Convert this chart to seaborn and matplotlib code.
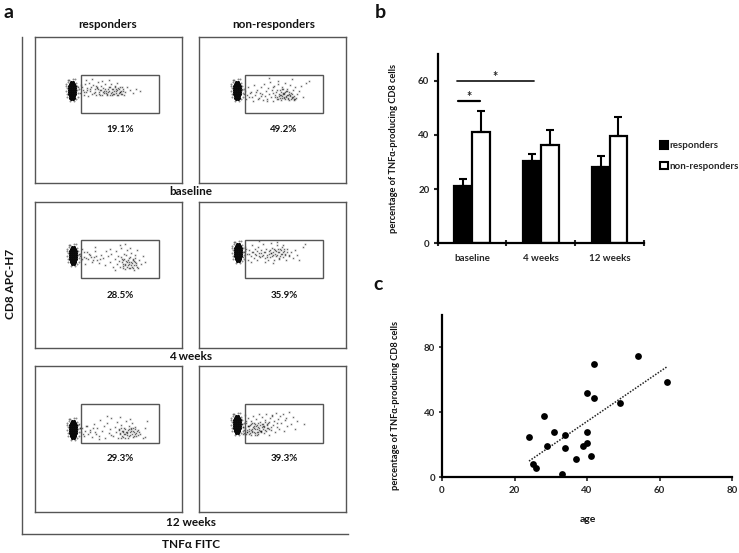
import matplotlib
matplotlib.use('Agg')
import matplotlib.pyplot as plt
import pandas as pd
import seaborn as sns
from matplotlib.patches import Patch, Rectangle

# panel b
TIMES = ['baseline', '4 weeks', '12 weeks']
GROUPS = ['responders', 'non-responders']
RESP_MEAN = [21, 30.5, 28]
NONRESP_MEAN = [41, 36.3, 39.8]
RESP_ERR = [2.8, 2.5, 4.3]
NONRESP_ERR = [8, 5.7, 6.7]

# panel c
AGE = [24, 25, 26, 28, 29, 31, 33, 34, 34, 37, 39, 40, 40, 40, 41, 42, 42, 49, 54, 62]
PCT = [25, 8, 6, 38, 19, 28, 2, 26, 18, 11, 19, 52, 28, 21, 13, 70, 49, 46, 75, 59]
TREND_X = [24, 62]
TREND_Y = [10, 68]

# panel a, events (distance from the plot corner)
PCTS = [['19.1%', '49.2%'], ['28.5%', '35.9%'], ['29.3%', '39.3%']]
ROW_LABELS = ['baseline', '4 weeks', '12 weeks']
BLOB_X = [-1, 0.5, -2, 0, 1.5, -3, -1, 1, 2.5, -3.5, -1.5, 0.5, 2.5, -3.5, -1.5, 0.5, 2.5, -3, -1, 1, 2.5, -3, -1, 1, 2.5, -2.5, -0.5, 1.5, -2, 0, 1.5, -1, 0.5]
BLOB_Y = [-8, -8, -6, -6, -6, -4, -4, -4, -4, -2, -2, -2, -2, 0, 0, 0, 0, 2, 2, 2, 2, 4, 4, 4, 4, 6, 6, 6, 7.5, 7.5, 7.5, 9, 9]
HALO_X = [-6, -5, -6.5, -5.5, -4.5, -5, -4, -6, 4, 5, 4.5, 6, 5.5, 4, 6.5, 3, -2, 1, -3, 2]
HALO_Y = [-6, -2, 1, 4, -8, 7, -10, -4, -7, -4, 0, 3, 7, 9, -1, -11, 11, -11, -10, 11]
BLOB_CENTRE = [[(37, 53), (38, 53)], [(38, 53), (39, 50)], [(38, 63), (38, 58)]]

EV_X_11 = [43, 45, 46, 48, 49, 50, 51, 52, 53, 54, 55, 56, 57, 58, 59, 60, 61, 62, 63, 64, 65, 66, 67, 68, 69, 70, 71, 72, 73, 74, 75, 76, 77, 78, 79, 80, 81, 82, 83, 84, 85, 86, 87, 88, 90, 92, 95, 98, 101, 105, 57, 74, 51, 67, 82, 63, 71,
           60, 62, 64, 66, 68, 70, 72, 74, 75, 76, 77, 78, 79, 80, 81, 82, 83, 84, 85, 86, 87, 88, 89, 61, 65, 69, 73, 77, 81, 85, 47, 49, 52, 55]
EV_Y_11 = [50, 56, 48, 53, 58, 47, 55, 51, 59, 46, 54, 50, 57, 48, 56, 52, 58, 50, 45, 55, 53, 49, 58, 51, 56, 47, 54, 57, 52, 50, 58, 47, 55, 52, 57, 49, 54, 58, 51, 56, 50, 54, 57, 52, 55, 50, 53, 56, 52, 54, 42, 43, 43, 44, 46, 52, 56,
           55, 51, 57, 53, 55, 52, 58, 54, 50, 56, 52, 57, 54, 50, 56, 53, 58, 52, 55, 57, 50, 54, 58, 49, 58, 54, 55, 58, 52, 55, 50, 55, 53, 52]
EV_X_12 = [43, 45, 47, 49, 50, 52, 54, 55, 56, 58, 60, 61, 62, 64, 65, 66, 67, 68, 69, 70, 71, 72, 73, 74, 75, 76, 77, 78, 79, 80, 81, 82, 83, 84, 85, 86, 87, 88, 89, 90, 91, 92, 93, 94, 95, 96, 98, 100, 102, 104, 107, 110, 79, 70, 86, 93, 74, 84, 90, 62, 68, 78, 82, 88, 96, 85, 83,
           74, 76, 78, 80, 81, 82, 83, 84, 85, 86, 87, 88, 89, 90, 91, 92, 93, 94, 95, 79, 81, 83, 85, 87, 89, 91, 93, 95, 97, 46, 48, 51, 53, 57, 59, 63]
EV_Y_12 = [52, 57, 62, 50, 60, 55, 64, 48, 58, 53, 61, 56, 50, 63, 47, 59, 54, 62, 51, 57, 45, 60, 53, 64, 49, 58, 55, 62, 47, 59, 53, 63, 50, 57, 61, 55, 60, 52, 58, 63, 48, 56, 61, 53, 59, 50, 57, 54, 49, 60, 46, 44, 44, 41, 46, 42, 50, 56, 57, 59, 64, 60, 58, 54, 62, 60, 52,
           56, 60, 53, 57, 61, 55, 59, 52, 57, 62, 54, 58, 61, 55, 59, 62, 57, 60, 62, 62, 58, 61, 56, 59, 62, 58, 60, 63, 61, 54, 58, 56, 60, 55, 62, 57]
EV_X_21 = [44, 46, 47, 49, 50, 52, 53, 55, 57, 59, 60, 62, 64, 66, 68, 70, 71, 73, 75, 76, 78, 80, 81, 82, 83, 84, 85, 86, 87, 88, 89, 90, 91, 92, 93, 94, 95, 96, 97, 98, 99, 100, 101, 102, 103, 104, 106, 108, 110, 85, 90, 95, 60, 75, 88, 94, 99, 80,
           86, 87, 88, 89, 90, 91, 92, 93, 94, 95, 96, 97, 98, 99, 100, 101, 102, 88, 90, 92, 94, 96, 98, 100, 45, 47, 49, 51, 54, 56, 58, 61, 65]
EV_Y_21 = [52, 58, 47, 55, 62, 50, 57, 53, 60, 55, 49, 58, 61, 53, 56, 63, 49, 54, 60, 52, 65, 57, 49, 62, 54, 59, 65, 46, 57, 62, 52, 67, 59, 48, 63, 56, 66, 51, 61, 57, 68, 53, 63, 48, 66, 58, 62, 54, 60, 43, 42, 46, 45, 47, 58, 60, 59, 68,
           55, 60, 64, 57, 62, 53, 65, 58, 62, 55, 60, 65, 58, 63, 56, 61, 65, 66, 63, 60, 66, 63, 66, 60, 54, 57, 50, 56, 52, 55, 58, 54, 57]
EV_X_22 = [42, 44, 46, 48, 49, 50, 52, 53, 54, 55, 56, 57, 58, 59, 60, 61, 62, 63, 64, 65, 66, 67, 68, 69, 70, 71, 72, 73, 74, 75, 76, 77, 78, 79, 80, 81, 82, 83, 84, 85, 86, 87, 88, 90, 92, 94, 96, 98, 100, 104, 106, 60, 72, 78, 84, 52, 66, 74, 80,
           56, 58, 60, 62, 64, 66, 68, 70, 71, 72, 73, 74, 75, 76, 77, 78, 79, 80, 81, 82, 83, 84, 85, 86, 88, 90, 45, 47, 50, 53]
EV_Y_22 = [49, 55, 45, 52, 58, 48, 54, 43, 50, 56, 47, 53, 58, 45, 51, 55, 48, 54, 42, 50, 56, 47, 53, 58, 49, 55, 51, 46, 53, 58, 48, 54, 43, 50, 56, 47, 52, 45, 55, 49, 53, 58, 47, 54, 50, 56, 48, 53, 58, 45, 42, 39, 41, 40, 43, 60, 60, 61, 57,
           52, 49, 54, 51, 53, 50, 55, 52, 48, 51, 54, 50, 47, 52, 49, 53, 47, 50, 54, 48, 52, 50, 47, 52, 50, 53, 50, 47, 52, 50]
EV_X_31 = [44, 46, 47, 49, 51, 53, 55, 57, 59, 60, 62, 64, 65, 67, 69, 70, 72, 74, 75, 76, 78, 80, 81, 82, 83, 84, 85, 86, 87, 88, 89, 90, 91, 92, 93, 94, 95, 96, 97, 98, 99, 100, 101, 103, 105, 108, 110, 112, 110, 85, 95, 72, 64, 88, 92, 96, 100, 76,
           84, 85, 86, 87, 88, 89, 90, 91, 92, 93, 94, 95, 96, 97, 98, 99, 100, 101, 102, 103, 104, 86, 90, 94, 98, 45, 48, 50, 52, 55, 58, 61]
EV_Y_31 = [58, 66, 62, 70, 60, 68, 64, 71, 58, 66, 62, 70, 54, 65, 60, 72, 57, 67, 63, 52, 70, 61, 66, 56, 72, 63, 68, 59, 65, 71, 62, 68, 55, 66, 72, 60, 69, 63, 57, 71, 66, 61, 70, 64, 68, 72, 62, 55, 71, 51, 53, 50, 73, 66, 67, 65, 68, 69,
           64, 67, 62, 70, 65, 68, 63, 66, 69, 64, 70, 66, 62, 68, 65, 70, 63, 67, 65, 69, 66, 72, 72, 63, 62, 62, 68, 65, 60, 66, 62, 68, 64]
EV_X_32 = [42, 44, 45, 46, 47, 48, 49, 50, 51, 52, 53, 54, 55, 56, 57, 58, 59, 60, 61, 62, 63, 64, 65, 66, 67, 68, 69, 70, 71, 72, 73, 74, 75, 76, 77, 78, 79, 80, 81, 82, 84, 85, 86, 87, 88, 90, 92, 94, 96, 98, 105, 50, 55, 60, 65, 70, 48, 53, 58, 63, 68, 56, 62, 46, 52, 78, 73, 66, 59,
           43, 45, 47, 48, 49, 50, 51, 52, 53, 54, 55, 56, 57, 58, 59, 60, 61, 62, 63, 64, 65, 66, 67, 68, 69, 70, 72, 46, 49, 52, 55, 58, 61, 64, 44, 47, 50, 53, 56, 59]
EV_Y_32 = [53, 61, 67, 49, 57, 64, 52, 68, 59, 55, 63, 50, 66, 58, 53, 69, 61, 48, 56, 65, 51, 60, 67, 54, 48, 62, 57, 69, 52, 64, 49, 59, 55, 66, 47, 61, 53, 63, 50, 57, 48, 65, 54, 52, 60, 46, 58, 51, 63, 55, 58, 60, 62, 64, 61, 63, 66, 57, 59, 61, 58, 67, 65, 62, 69, 57, 50, 64, 68,
           58, 64, 55, 66, 60, 63, 67, 58, 65, 61, 57, 63, 60, 66, 57, 62, 59, 66, 58, 63, 60, 56, 65, 59, 62, 56, 61, 68, 60, 64, 60, 63, 65, 58, 68, 68, 65, 66, 69, 66]
EVENTS = [[(EV_X_11, EV_Y_11), (EV_X_12, EV_Y_12)],
          [(EV_X_21, EV_Y_21), (EV_X_22, EV_Y_22)],
          [(EV_X_31, EV_Y_31), (EV_X_32, EV_Y_32)]]

W, H = 739, 553
FRAME = '#555555'


def px_axes(fig, left, top, right, bottom):
    return fig.add_axes([left / W, 1 - bottom / H, (right - left) / W, (bottom - top) / H])


def label(fig, x, y, s, size=8, **kw):
    fig.text(x / W, 1 - y / H, s, fontsize=size, fontweight='bold', ha='center', va='center', color='#111111', **kw)


sns.set_style('white')
plt.rcParams['font.family'] = ['Lato', 'DejaVu Sans']
fig = plt.figure(figsize=(W / 100, H / 100), dpi=100)

# panel a
outer = px_axes(fig, 22, 37, 348, 534)
sns.despine(ax=outer)
outer.set_xticks([])
outer.set_yticks([])
for side in ['left', 'bottom']:
    outer.spines[side].set_color(FRAME)
    outer.spines[side].set_linewidth(1)

tops = [37, 202, 365.5]
lefts = [35.3, 199]
gate_tops = [37.5, 38, 38.5]
for r, top in enumerate(tops):
    for c, left in enumerate(lefts):
        ax = px_axes(fig, left, top, left + 147, top + 146)
        ev_x, ev_y = zip(*zip(*EVENTS[r][c]))
        cx, cy = BLOB_CENTRE[r][c]
        # wide faint pass then a fine dark one, the original scan is soft
        sns.scatterplot(x=list(ev_x), y=list(ev_y), s=5, color='black', alpha=0.1, linewidth=0, ax=ax)
        sns.scatterplot(x=list(ev_x), y=list(ev_y), s=0.8, color='black', alpha=0.55, linewidth=0, ax=ax)
        sns.scatterplot(x=[cx + v for v in HALO_X], y=[cy + v for v in HALO_Y], s=2, color='black', alpha=0.45,
                        linewidth=0, ax=ax)
        sns.scatterplot(x=[cx + v for v in BLOB_X], y=[cy + v for v in BLOB_Y], s=5, color='#0a0a0a',
                        linewidth=0, ax=ax)
        ax.add_patch(Rectangle((45.5, gate_tops[r]), 78.5, 38.5, fill=False, ec=FRAME, lw=1))
        ax.set_xlim(0, 147)
        ax.set_ylim(146, 0)
        ax.set_xticks([])
        ax.set_yticks([])
        for spine in ax.spines.values():
            spine.set_color(FRAME)
            spine.set_linewidth(1)
        label(fig, left + 85, top + 93, PCTS[r][c], size=7)

label(fig, 108, 25, 'responders', size=8.5)
label(fig, 274, 25, 'non-responders', size=8.5)
label(fig, 191, 192, ROW_LABELS[0], size=8.5)
label(fig, 191, 357, ROW_LABELS[1], size=8.5)
label(fig, 191, 523, ROW_LABELS[2], size=8.5)
label(fig, 11, 284, 'CD8 APC-H7', size=8.5, rotation=90)
label(fig, 191, 545, 'TNF\u03b1 FITC', size=8.5)
label(fig, 8, 12, 'a', size=14)
label(fig, 380, 12, 'b', size=14)
label(fig, 378, 285, 'c', size=14)

# panel b
bars = pd.DataFrame({
    'time': TIMES * 2,
    'group': [GROUPS[0]] * 3 + [GROUPS[1]] * 3,
    'value': RESP_MEAN + NONRESP_MEAN,
})
ax = px_axes(fig, 437.7, 54, 644, 243)
sns.barplot(data=bars, x='time', y='value', hue='group', hue_order=GROUPS, palette=['black', 'white'],
            edgecolor='black', linewidth=1.6, width=0.515, gap=0, errorbar=None, legend=False, ax=ax)
for container, means, errs in zip(ax.containers, [RESP_MEAN, NONRESP_MEAN], [RESP_ERR, NONRESP_ERR]):
    centres = [p.get_x() + p.get_width() / 2 for p in container]
    ax.errorbar(centres, means, yerr=[[0] * 3, errs], fmt='none', ecolor='black', elinewidth=1.5,
                capsize=3, capthick=1.5)
ax.plot([-0.22, 0.9], [60, 60], color='#222222', lw=1.3)
ax.plot([-0.205, 0.114], [52.7, 52.7], color='black', lw=1.6)
ax.text(0.33, 61.5, '*', ha='center', va='center', fontsize=9, fontweight='bold')
ax.text(-0.05, 54.2, '*', ha='center', va='center', fontsize=9, fontweight='bold')
ax.set_xlim(-0.5, 2.5)
ax.set_ylim(0, 70)
ax.set_yticks([0, 20, 40, 60])
ax.set_xticks([-0.5, 0.5, 1.5, 2.5], minor=True)
ax.set_xlabel('')
ax.set_ylabel('')
ax.tick_params(axis='x', which='major', length=0, labelsize=7, pad=8)
ax.tick_params(axis='x', which='minor', length=4, width=1.5, direction='inout', bottom=True)
ax.tick_params(axis='y', length=3, width=1.5, direction='out', left=True, labelsize=7, pad=3)
for t in ax.get_xticklabels() + ax.get_yticklabels():
    t.set_fontweight('bold')
sns.despine(ax=ax)
for side in ['left', 'bottom']:
    ax.spines[side].set_color('black')
    ax.spines[side].set_linewidth(1.6)
label(fig, 394, 149, 'percentage of TNF\u03b1-producing CD8 cells', size=6.7, rotation=90)

handles = [Patch(fc='black', ec='black', lw=1.5), Patch(fc='white', ec='black', lw=1.5)]
fig.legend(handles, GROUPS, loc='center left', bbox_to_anchor=(660 / W, 1 - 156 / H), frameon=False,
           prop={'size': 7, 'weight': 'bold'}, handlelength=0.85, handleheight=0.85, handletextpad=0.15,
           labelspacing=1.15, borderpad=0, borderaxespad=0)

# panel c
ax = px_axes(fig, 442, 315, 732, 477.3)
sns.scatterplot(x=AGE, y=PCT, s=24, color='black', linewidth=0, clip_on=False, zorder=3, ax=ax)
sns.lineplot(x=TREND_X, y=TREND_Y, color='#222222', lw=1.1, linestyle=(0, (1, 1)), ax=ax)
ax.set_xlim(0, 80)
ax.set_ylim(0, 100)
ax.set_xticks([0, 20, 40, 60, 80])
ax.set_yticks([0, 40, 80])
ax.tick_params(axis='x', length=3, width=1.2, direction='out', bottom=True, labelsize=7, pad=3)
ax.tick_params(axis='y', length=2, width=1.2, direction='out', left=True, labelsize=7, pad=3)
for t in ax.get_xticklabels() + ax.get_yticklabels():
    t.set_fontweight('bold')
sns.despine(ax=ax)
for side in ['left', 'bottom']:
    ax.spines[side].set_color('black')
    ax.spines[side].set_linewidth(1.6)
label(fig, 395, 405, 'percentage of TNF\u03b1-producing CD8 cells', size=6.7, rotation=90)
label(fig, 588, 520, 'age', size=7.5)

fig.savefig('out.png', dpi=100)
plt.close(fig)
